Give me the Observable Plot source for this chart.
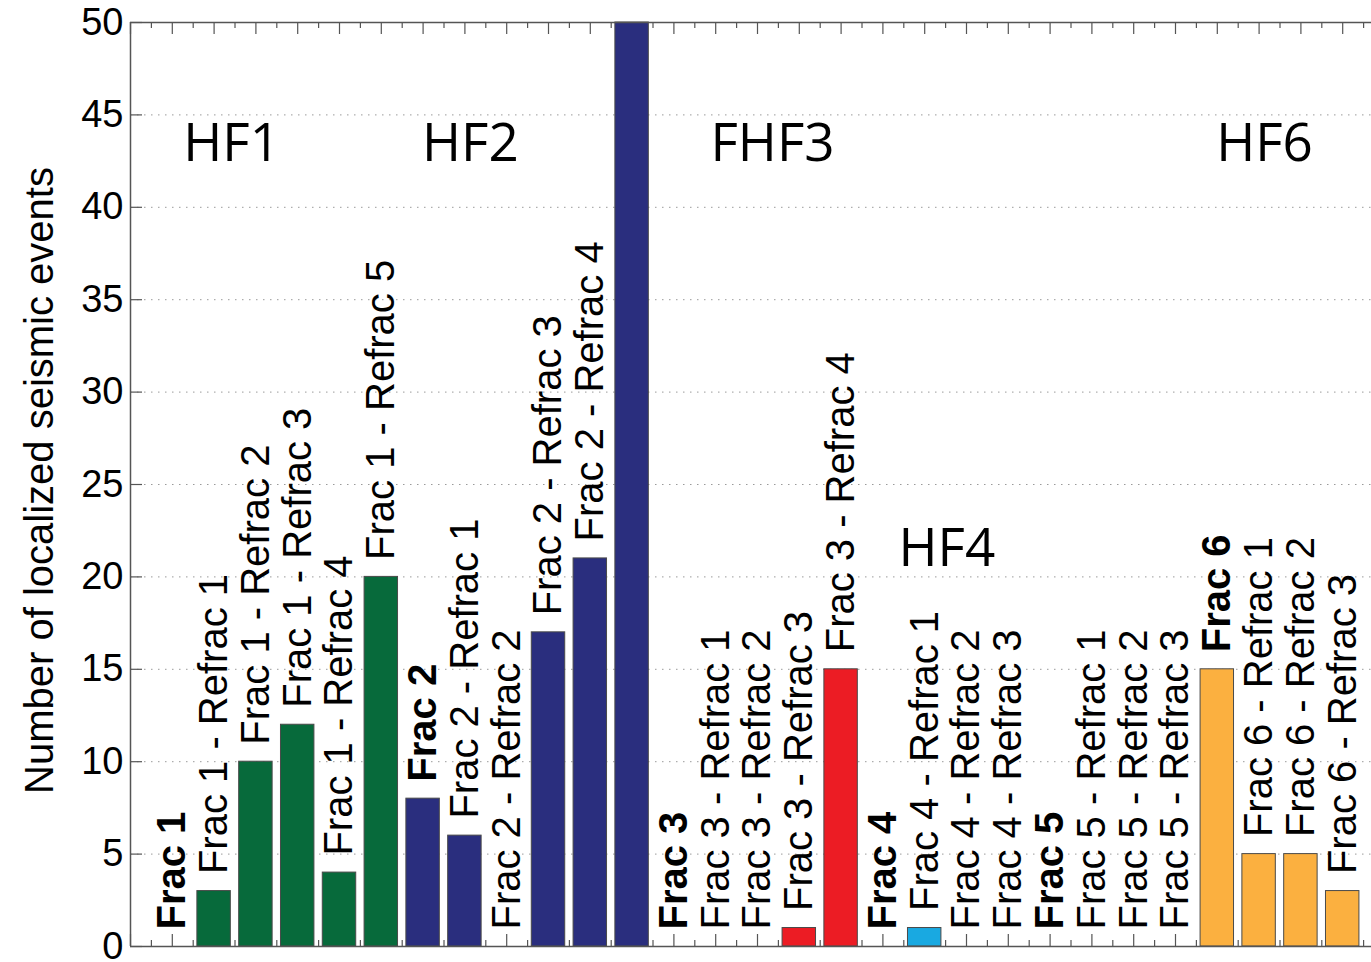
<!DOCTYPE html>
<html>
<head>
<meta charset="utf-8">
<script src="https://cdn.jsdelivr.net/npm/d3@7"></script>
<script src="https://cdn.jsdelivr.net/npm/@observablehq/plot@0.6"></script>
<style>
  html, body { margin: 0; padding: 0; background: white; overflow: hidden; width: 1371px; height: 962px; }
  #chart svg { max-width: none !important; display: block; }
</style>
</head>
<body>
<div id="chart"></div>
<script>
// ---- data ----
const labels = [
  "Frac 1", "Frac 1 - Refrac 1", "Frac 1 - Refrac 2", "Frac 1 - Refrac 3", "Frac 1 - Refrac 4", "Frac 1 - Refrac 5",
  "Frac 2", "Frac 2 - Refrac 1", "Frac 2 - Refrac 2", "Frac 2 - Refrac 3", "Frac 2 - Refrac 4", "",
  "Frac 3", "Frac 3 - Refrac 1", "Frac 3 - Refrac 2", "Frac 3 - Refrac 3", "Frac 3 - Refrac 4",
  "Frac 4", "Frac 4 - Refrac 1", "Frac 4 - Refrac 2", "Frac 4 - Refrac 3",
  "Frac 5", "Frac 5 - Refrac 1", "Frac 5 - Refrac 2", "Frac 5 - Refrac 3",
  "Frac 6", "Frac 6 - Refrac 1", "Frac 6 - Refrac 2", "Frac 6 - Refrac 3"
];
const values = [0, 3, 10, 12, 4, 20, 8, 6, 0, 17, 21, 50, 0, 0, 0, 1, 15, 0, 1, 0, 0, 0, 0, 0, 0, 15, 5, 5, 3];
const fracOf = [1, 1, 1, 1, 1, 1, 2, 2, 2, 2, 2, 2, 3, 3, 3, 3, 3, 4, 4, 4, 4, 5, 5, 5, 5, 6, 6, 6, 6];
const fracColors = ["#076a3b", "#2a2e7e", "#ec1c24", "#19a9e1", "#fbb040", "#fbb040"];
const groupNames = ["HF1", "HF2", "FHF3", "HF4", "HF6"];
const groupX = [2.42, 8.13, 15.36, 19.53, 27.13];
const groupY = [42.5, 42.5, 42.5, 20.6, 42.5];
const yTicks = [0, 5, 10, 15, 20, 25, 30, 35, 40, 45, 50];
const yLabel = "Number of localized seismic events";

const rows = labels.map((label, i) => ({
  k: i + 1, label, value: values[i], frac: fracOf[i], bold: /^Frac \d$/.test(label)
}));
const groups = groupNames.map((name, i) => ({name, x: groupX[i], y: groupY[i]}));
const nCat = labels.length;
const majorX = d3.range(0, nCat + 2);
const minorX = d3.range(0.5, nCat + 1, 1);
const axisColor = "#555";

const chart = Plot.plot({
  width: 1400,
  height: 962,
  marginLeft: 130,
  marginRight: 16,
  marginTop: 22,
  marginBottom: 16,
  x: {domain: [0, nCat + 1], axis: null},
  y: {domain: [0, 50], axis: null},
  color: {type: "ordinal", domain: [1, 2, 3, 4, 5, 6], range: fracColors},
  style: {fontFamily: "'Liberation Sans', Arial, Helvetica, sans-serif", background: "white", color: "black", overflow: "visible"},
  marks: [
    // dotted grid
    Plot.ruleY(yTicks.filter(t => t > 0 && t < 50), {stroke: "#9a9a9a", strokeDasharray: "1.5,5.5", strokeWidth: 1}),
    // inward ticks
    Plot.ruleX(majorX, {x: d => d, y1: 50, y2: 50, insetBottom: -12, stroke: axisColor, strokeWidth: 1.2}),
    Plot.ruleX(minorX, {x: d => d, y1: 50, y2: 50, insetBottom: -6, stroke: axisColor, strokeWidth: 1.2}),
    Plot.ruleX(majorX, {x: d => d, y1: 0, y2: 0, insetTop: -12, stroke: axisColor, strokeWidth: 1.2}),
    Plot.ruleX(minorX, {x: d => d, y1: 0, y2: 0, insetTop: -6, stroke: axisColor, strokeWidth: 1.2}),
    Plot.ruleY(yTicks, {y: d => d, x1: 0, x2: 0, insetRight: -12, stroke: axisColor, strokeWidth: 1.2}),
    // bars
    Plot.rectY(rows.filter(d => d.value > 0), {
      x1: d => d.k - 0.4, x2: d => d.k + 0.4, y: "value",
      fill: "frac", stroke: "#4a4a4a", strokeWidth: 1
    }),
    // frame lines
    Plot.ruleY([0, 50], {stroke: axisColor, strokeWidth: 1.5}),
    Plot.ruleX([0], {stroke: axisColor, strokeWidth: 1.5}),
    // y tick labels
    Plot.axisY({ticks: yTicks, tickSize: 0, tickPadding: 7, fontSize: 38, label: null, tickFormat: d => String(d), fill: "black"}),
    // y axis title
    Plot.text([yLabel], {
      frameAnchor: "left", text: d => d, rotate: -90, textAnchor: "middle", lineAnchor: "bottom",
      dx: -78, dy: -4, fontSize: 40, fill: "black"
    }),
    // bar labels
    Plot.text(rows.filter(d => d.label && !d.bold), {
      x: "k", y: "value", text: "label", rotate: -90, textAnchor: "start", lineAnchor: "middle",
      dy: -17, fontSize: 40, fill: "black"
    }),
    Plot.text(rows.filter(d => d.label && d.bold), {
      x: "k", y: "value", text: "label", rotate: -90, textAnchor: "start", lineAnchor: "middle",
      dy: -17, fontSize: 40, fontWeight: "bold", fill: "black"
    }),
    // group titles
    Plot.text(groups, {
      x: "x", y: "y", text: "name", textAnchor: "middle", lineAnchor: "bottom",
      fontSize: 53, fontFamily: "'Open Sans', sans-serif", fill: "black"
    })
  ]
});
document.getElementById("chart").append(chart);
</script>
</body>
</html>
